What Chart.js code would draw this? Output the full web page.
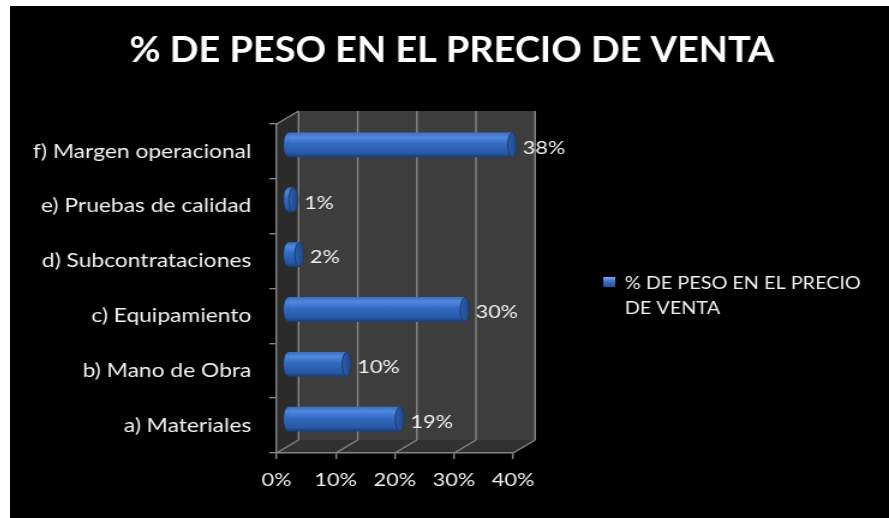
<!DOCTYPE html>
<html lang="es">
<head>
<meta charset="utf-8">
<title>% de peso en el precio de venta</title>
<script src="https://cdn.jsdelivr.net/npm/chart.js@4.4.1/dist/chart.umd.min.js"></script>
<style>
  html, body { margin: 0; padding: 0; background: #fff; }
  #wrap {
    position: absolute;
    left: 10px;
    top: 6px;
    width: 879px;
    height: 512px;
    background: #000;
  }
  #chartPeso { display: block; }
</style>
</head>
<body>
<div id="wrap">
  <!-- el lienzo se estira en horizontal, como la lámina original -->
  <canvas id="chartPeso" width="732" height="512" style="width:879px;height:512px"></canvas>
</div>
<script>
/* global Chart */

const seriesName = "% DE PESO EN EL PRECIO DE VENTA";
const categorias = [
  "a) Materiales",
  "b) Mano de Obra",
  "c) Equipamiento",
  "d) Subcontrataciones",
  "e) Pruebas de calidad",
  "f) Margen operacional",
];
const pesos = [19, 10, 30, 2, 1, 38];
const xMin = 0;
const xMax = 40;
const xStep = 10;

// profundidad del "cubo" 3D (en unidades del lienzo)
const DX = 18.3;
const DY = -13;
const BAR = 24;
const CAP = 3.8;

const FONT = "Lato";
const GRID = "#858585";
const TEXT = "#f2f2f2";

function bodyGradient(ctx, top, h) {
  const g = ctx.createLinearGradient(0, top, 0, top + h);
  g.addColorStop(0, "#3b70c4");
  g.addColorStop(0.18, "#5089de");
  g.addColorStop(0.45, "#346bc0");
  g.addColorStop(0.85, "#2758a5");
  g.addColorStop(1, "#1a3f7c");
  return g;
}

// paredes, piso, rejilla, cilindros, título y leyenda
const caja3d = {
  id: "caja3d",
  beforeDraw(chart) {
    const { ctx, chartArea: a, scales: { x } } = chart;
    ctx.save();

    // pared del fondo
    ctx.fillStyle = "#3d3d3d";
    ctx.fillRect(a.left + DX, a.top + DY, a.right - a.left, a.bottom - a.top);

    // pared izquierda
    ctx.fillStyle = "#2b2b2b";
    ctx.beginPath();
    ctx.moveTo(a.left, a.top);
    ctx.lineTo(a.left + DX, a.top + DY);
    ctx.lineTo(a.left + DX, a.bottom + DY);
    ctx.lineTo(a.left, a.bottom);
    ctx.closePath();
    ctx.fill();

    // piso
    ctx.fillStyle = "#313131";
    ctx.beginPath();
    ctx.moveTo(a.left, a.bottom);
    ctx.lineTo(a.right, a.bottom);
    ctx.lineTo(a.right + DX, a.bottom + DY);
    ctx.lineTo(a.left + DX, a.bottom + DY);
    ctx.closePath();
    ctx.fill();

    ctx.strokeStyle = GRID;
    ctx.lineWidth = 1.4;
    ctx.beginPath();
    for (let v = xMin; v <= xMax; v += xStep) {
      const px = x.getPixelForValue(v);
      ctx.moveTo(px + DX, a.top + DY);
      ctx.lineTo(px + DX, a.bottom + DY);
      ctx.moveTo(px, a.bottom);
      ctx.lineTo(px + DX, a.bottom + DY);
    }
    ctx.moveTo(a.left, a.top);
    ctx.lineTo(a.left + DX, a.top + DY);
    ctx.stroke();
    ctx.restore();
  },
  beforeDatasetsDraw(chart) {
    chart.ctx.save();
    chart.ctx.translate(DX / 2, DY / 2);
  },
  afterDatasetsDraw(chart) {
    const { ctx } = chart;
    ctx.restore();

    const meta = chart.getDatasetMeta(0);
    const data = chart.data.datasets[0].data;
    ctx.save();
    meta.data.forEach((el, i) => {
      const cy = el.y + DY / 2;
      const h = el.height;
      const x0 = el.base + DX / 2;
      const x1 = el.x + DX / 2;

      // extremo izquierdo redondeado
      ctx.fillStyle = bodyGradient(ctx, cy - h / 2, h);
      ctx.beginPath();
      ctx.ellipse(x0, cy, CAP, h / 2, 0, Math.PI / 2, Math.PI * 1.5);
      ctx.fill();

      // tapa del cilindro
      const g = ctx.createLinearGradient(x1 - CAP, 0, x1 + CAP, 0);
      g.addColorStop(0, "#2d61b1");
      g.addColorStop(1, "#1d4482");
      ctx.fillStyle = g;
      ctx.strokeStyle = "#1b3b70";
      ctx.lineWidth = 1;
      ctx.beginPath();
      ctx.ellipse(x1, cy, CAP, h / 2, 0, 0, Math.PI * 2);
      ctx.fill();
      ctx.stroke();

      // etiqueta de valor
      ctx.fillStyle = TEXT;
      ctx.font = `18px ${FONT}`;
      ctx.textAlign = "left";
      ctx.textBaseline = "middle";
      ctx.fillText(`${data[i]}%`, x1 + CAP + 5, cy + 3);
    });
    ctx.restore();
  },
  afterDraw(chart) {
    const { ctx, chartArea: a } = chart;
    ctx.save();

    // título (algo condensado para que quepa como en la lámina)
    ctx.fillStyle = "#ffffff";
    ctx.font = `bold 36px ${FONT}`;
    ctx.textAlign = "center";
    ctx.textBaseline = "alphabetic";
    ctx.fillText(seriesName, chart.width / 2 + 2, 56, 537);

    // leyenda
    const mx = a.right + 75;
    const my = 271;
    const g = ctx.createLinearGradient(0, my, 0, my + 10);
    g.addColorStop(0, "#7fa8ec");
    g.addColorStop(0.4, "#3f76cf");
    g.addColorStop(1, "#214f9c");
    ctx.fillStyle = g;
    ctx.fillRect(mx, my, 10, 10);

    ctx.fillStyle = TEXT;
    ctx.font = `16.5px ${FONT}`;
    ctx.textAlign = "left";
    ctx.textBaseline = "middle";
    const maxW = 200;
    const lines = [];
    let line = "";
    seriesName.split(" ").forEach((w) => {
      const test = line ? line + " " + w : w;
      if (line && ctx.measureText(test).width > maxW) {
        lines.push(line);
        line = w;
      } else {
        line = test;
      }
    });
    lines.push(line);
    lines.forEach((t, i) => ctx.fillText(t, mx + 18, my + 7 + i * 25));
    ctx.restore();
  },
};

const el = document.getElementById("chartPeso");

new Chart(el, {
  type: "bar",
  data: {
    labels: categorias,
    datasets: [
      {
        label: seriesName,
        data: pesos,
        barThickness: BAR,
        borderWidth: 0,
        backgroundColor(c) {
          const chart = c.chart;
          const y = chart.scales.y;
          if (!chart.chartArea || !y) return "#346bc0";
          const cy = y.getPixelForValue(c.dataIndex);
          if (!Number.isFinite(cy)) return "#346bc0";
          return bodyGradient(chart.ctx, cy - BAR / 2, BAR);
        },
      },
    ],
  },
  plugins: [caja3d],
  options: {
    indexAxis: "y",
    responsive: false,
    animation: false,
    layout: { padding: { top: 118, right: 313, bottom: 0, left: 0 } },
    scales: {
      x: {
        min: xMin,
        max: xMax,
        ticks: {
          stepSize: xStep,
          color: TEXT,
          font: { family: FONT, size: 18 },
          padding: 10,
          callback: (v) => `${v}%`,
        },
        grid: { drawOnChartArea: false, color: GRID, tickLength: 6, lineWidth: 1.4 },
        border: { color: GRID, width: 1.4 },
        afterFit(scale) {
          scale.height = 65;
        },
      },
      y: {
        reverse: true,
        ticks: {
          color: TEXT,
          font: { family: FONT, size: 19 },
          padding: 15,
        },
        grid: { drawOnChartArea: false, color: GRID, tickLength: 6, lineWidth: 1.4 },
        border: { color: GRID, width: 1.4 },
        afterFit(scale) {
          scale.width = 222;
        },
      },
    },
    plugins: {
      legend: { display: false },
      tooltip: { enabled: false },
      title: { display: false },
    },
  },
});
</script>
</body>
</html>
